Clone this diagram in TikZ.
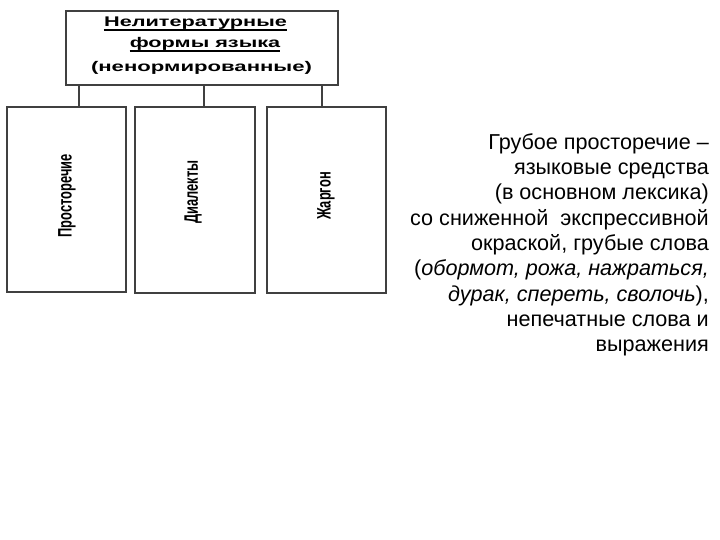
\documentclass[tikz,border=0pt]{standalone}
\usepackage{fontspec}
\setmainfont{Liberation Sans}
\usepackage{graphicx}
\begin{document}
\begin{tikzpicture}[x=1pt,y=-1pt,
  box/.style={draw=black!75, line width=1.4pt, inner sep=0pt},
  conn/.style={draw=black!75, line width=1.4pt},
  head/.style={anchor=base, inner sep=0pt, font=\fontsize{14}{16}\selectfont\bfseries},
  vert/.style={rotate=90, inner sep=0pt, font=\fontsize{19.5}{21}\selectfont\bfseries},
  desc/.style={anchor=base east, inner sep=0pt, font=\fontsize{21.6}{25}\selectfont}]
\useasboundingbox (0,0) rectangle (720,540);
% top box
\node[box, minimum width=272pt, minimum height=74pt] (top) at (202,48) {};
\node[head] (h1) at (195.5,26.5) {\scalebox{1.55}[1]{Нелитературные}};
\node[head] (h2) at (205,47.5) {\scalebox{1.55}[1]{формы языка}};
\node[head] (h3) at (201.5,72) {\scalebox{1.58}[1]{(ненормированные)}};
\draw[line width=1.2pt] ([yshift=-3.5pt]h1.base west) -- ([yshift=-3.5pt]h1.base east);
\draw[line width=1.2pt] ([yshift=-3.5pt]h2.base west) -- ([yshift=-3.5pt]h2.base east);
% lower boxes
\node[box, minimum width=119pt, minimum height=185pt] (b1) at (66.5,199.5) {};
\node[box, minimum width=120pt, minimum height=186pt] (b2) at (195,200) {};
\node[box, minimum width=119pt, minimum height=186pt] (b3) at (326.5,200) {};
\node[vert] (v1) at (67,196) {\scalebox{0.66}[1]{Просторечие}};
\node[vert] (v2) at (193,192) {\scalebox{0.66}[1]{Диалекты}};
\node[vert] (v3) at (326,196) {\scalebox{0.66}[1]{Жаргон}};
% connectors
\coordinate (c1) at (79,0);
\coordinate (c2) at (204,0);
\coordinate (c3) at (322,0);
\draw[conn] (top.south -| c1) -- (b1.north -| c1);
\draw[conn] (top.south -| c2) -- (b2.north -| c2);
\draw[conn] (top.south -| c3) -- (b3.north -| c3);
% description
\node[desc] (l1) at (709,149.5) {Грубое просторечие –};
\node[desc] (l2) at (709,174.75) {языковые средства};
\node[desc] (l3) at (709,200) {(в основном лексика)};
\node[desc] (l4) at (709,225.25) {со сниженной\ \ экспрессивной};
\node[desc] (l5) at (709,250.5) {окраской, грубые слова};
\node[desc] (l6) at (709,275.75) {(\textit{обормот, рожа, нажраться,}};
\node[desc] (l7) at (709,301) {\textit{дурак, спереть, сволочь}),};
\node[desc] (l8) at (709,326.25) {непечатные слова и};
\node[desc] (l9) at (709,351.5) {выражения};
\end{tikzpicture}
\end{document}
